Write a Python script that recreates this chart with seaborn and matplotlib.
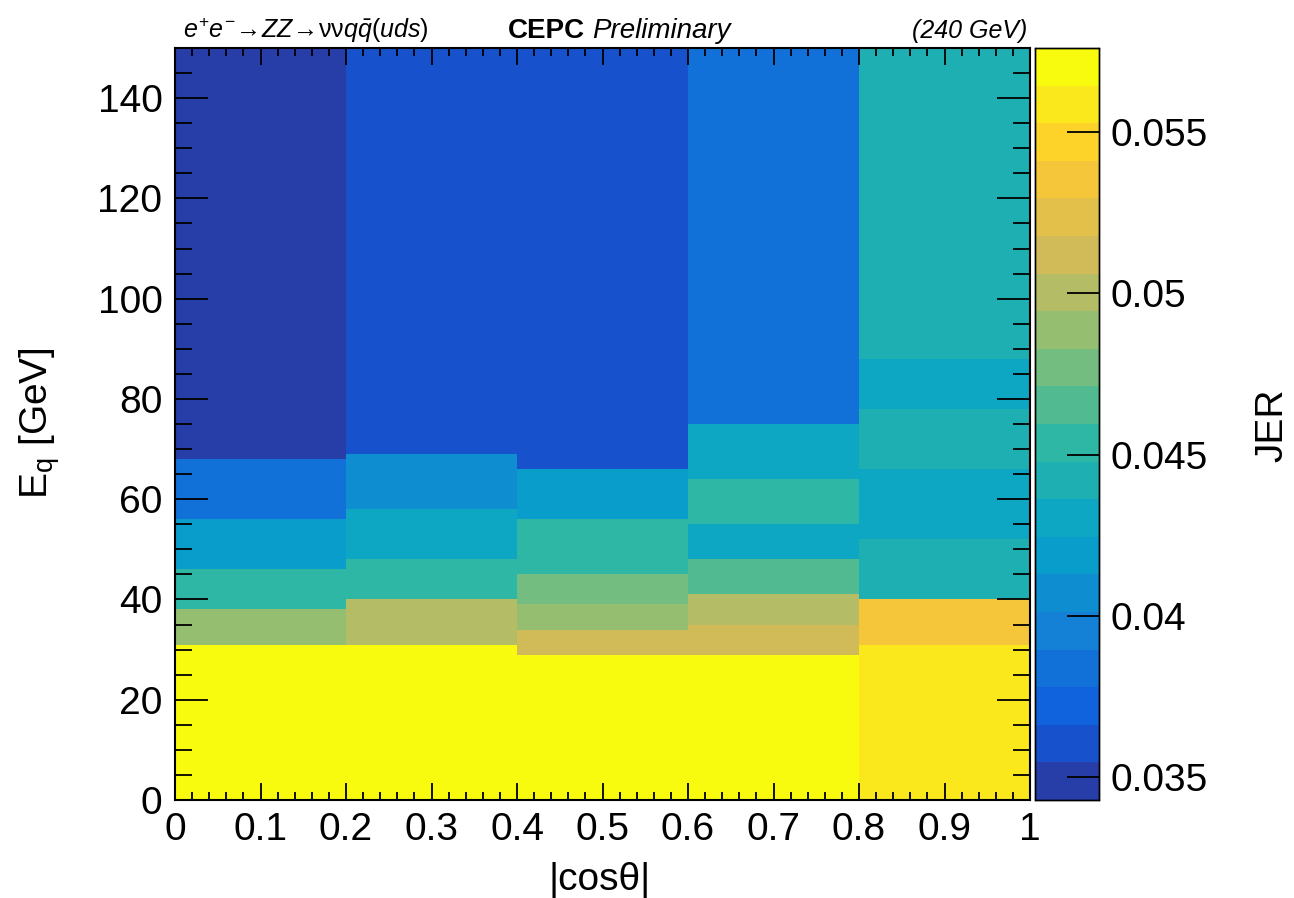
import numpy as np
import pandas as pd
import matplotlib
matplotlib.use("Agg")
import matplotlib.pyplot as plt
import seaborn as sns
from matplotlib.colors import LinearSegmentedColormap, ListedColormap
from matplotlib.ticker import FixedLocator, MultipleLocator

# ---------------- data ----------------
x_edges = [0.0, 0.2, 0.4, 0.6, 0.8, 1.0]
x_ticklabels = ["0", "0.1", "0.2", "0.3", "0.4", "0.5", "0.6", "0.7", "0.8", "0.9", "1"]
y_ticks = [0, 20, 40, 60, 80, 100, 120, 140]
cbar_ticks = [0.035, 0.04, 0.045, 0.05, 0.055]
cbar_ticklabels = ["0.035", "0.04", "0.045", "0.05", "0.055"]

col1_edges = [0, 31, 38, 46, 56, 68, 150]
col1_jer = [0.0576, 0.0488, 0.0454, 0.0419, 0.0384, 0.0343]
col2_edges = [0, 31, 40, 48, 58, 69, 150]
col2_jer = [0.0576, 0.0500, 0.0454, 0.0430, 0.0407, 0.0361]
col3_edges = [0, 29, 34, 39, 45, 56, 66, 150]
col3_jer = [0.0576, 0.0512, 0.0488, 0.0477, 0.0454, 0.0419, 0.0361]
col4_edges = [0, 29, 35, 41, 48, 55, 64, 75, 150]
col4_jer = [0.0576, 0.0512, 0.0500, 0.0465, 0.0430, 0.0454, 0.0430, 0.0384]
col5_edges = [0, 31, 40, 52, 66, 78, 88, 150]
col5_jer = [0.0558, 0.0535, 0.0442, 0.0430, 0.0442, 0.0430, 0.0442]

columns_edges = [col1_edges, col2_edges, col3_edges, col4_edges, col5_edges]
columns_jer = [col1_jer, col2_jer, col3_jer, col4_jer, col5_jer]

# build a 1-GeV fine grid table from the variable-size bins
y_max = 150
grid = np.zeros((y_max, len(columns_jer)))
for c, (edges, vals) in enumerate(zip(columns_edges, columns_jer)):
    for i, v in enumerate(vals):
        grid[edges[i]:edges[i + 1], c] = v
df = pd.DataFrame(grid)

# ---------------- ROOT kBird palette, 20 contour levels ----------------
stops = [0.0, 0.125, 0.25, 0.375, 0.5, 0.625, 0.75, 0.875, 1.0]
red = [0.2082, 0.0592, 0.0780, 0.0232, 0.1802, 0.5301, 0.8186, 0.9956, 0.9764]
green = [0.1664, 0.3599, 0.5041, 0.6419, 0.7178, 0.7492, 0.7328, 0.7862, 0.9832]
blue = [0.5293, 0.8684, 0.8385, 0.7914, 0.6425, 0.4662, 0.3499, 0.1968, 0.0539]
bird = LinearSegmentedColormap.from_list(
    "bird", list(zip(stops, zip(red, green, blue))), N=255)
ncont = 20
idx = [int((k + 0.99) * 255 / ncont) for k in range(ncont)]
cmap20 = ListedColormap([bird(i / 254) for i in idx])

zmin = float(np.min(grid))
zmax = float(np.max(grid))

# ---------------- figure ----------------
sns.set_theme(style="white")
plt.rcParams["font.family"] = ["Liberation Sans", "DejaVu Sans"]
plt.rcParams["text.color"] = "black"
plt.rcParams["mathtext.fontset"] = "custom"
plt.rcParams["mathtext.rm"] = "Liberation Sans"
plt.rcParams["mathtext.it"] = "Liberation Sans:italic"
plt.rcParams["mathtext.bf"] = "Liberation Sans:bold"

W, H = 1294, 898
fig = plt.figure(figsize=(W / 100, H / 100), dpi=100)
fig.patch.set_facecolor("white")

L, R, T, B = 175, 1030, 48, 800
ax = fig.add_axes([L / W, 1 - B / H, (R - L) / W, (B - T) / H])
cax = fig.add_axes([1035 / W, 1 - B / H, 64 / W, (B - T) / H])

sns.heatmap(df, ax=ax, cbar_ax=cax, cmap=cmap20, vmin=zmin, vmax=zmax,
            xticklabels=False, yticklabels=False, linewidths=0)

ax.invert_yaxis()
nx = len(columns_jer)
ax.set_xlim(0, nx)
ax.set_ylim(0, y_max)
ax.set_axisbelow(False)
cax.set_axisbelow(False)

for s in ax.spines.values():
    s.set_visible(True)
    s.set_color("black")
    s.set_linewidth(1.5)
    s.set_zorder(5)

scale = nx / (x_edges[-1] - x_edges[0])
ax.xaxis.set_major_locator(FixedLocator([v * scale for v in np.linspace(0, 1, 11)]))
ax.set_xticklabels(x_ticklabels)
ax.xaxis.set_minor_locator(MultipleLocator(0.02 * scale))
ax.yaxis.set_major_locator(FixedLocator(y_ticks))
ax.set_yticklabels([str(v) for v in y_ticks])
ax.yaxis.set_minor_locator(MultipleLocator(5))

ax.tick_params(axis="both", which="both", direction="in", colors="black",
               top=True, right=True, bottom=True, left=True, labelsize=28)
ax.tick_params(axis="x", which="major", length=12, width=1.3, pad=9)
ax.tick_params(axis="x", which="minor", length=6, width=1.3)
ax.tick_params(axis="y", which="major", length=24, width=1.3, pad=9)
ax.tick_params(axis="y", which="minor", length=12, width=1.3)
ax.set_xlabel("")
ax.set_ylabel("")

# colorbar
cax.yaxis.set_major_locator(FixedLocator(cbar_ticks))
cax.set_yticklabels(cbar_ticklabels)
cax.tick_params(axis="y", which="major", direction="in", length=23, width=1.3,
                labelsize=28, pad=8, right=True, left=False, colors="black")
cax.tick_params(axis="y", which="minor", length=0)
for s in cax.spines.values():
    s.set_visible(True)
    s.set_color("black")
    s.set_linewidth(1.0)

# labels
fig.text(600 / W, 1 - 880 / H, "|cos\u03b8|", ha="center", va="center", fontsize=28)
fig.text(40 / W, 1 - 423 / H, r"E$_{\mathregular{q}}$ [GeV]", ha="center", va="center",
         rotation=90, fontsize=28)
fig.text(1272 / W, 1 - 425 / H, "JER", ha="center", va="center", rotation=90, fontsize=28)

# header texts
yb = 1 - 38 / H
fig.text(183 / W, yb, r"$e^{+}e^{-}\!\rightarrow\!ZZ\!\rightarrow\!\mathrm{\nu\nu}q\bar{q}(uds)$",
         ha="left", va="baseline", fontsize=18)
fig.text(508 / W, yb, "CEPC", ha="left", va="baseline", fontsize=20, fontweight="bold")
fig.text(592 / W, yb, "Preliminary", ha="left", va="baseline", fontsize=20, fontstyle="italic")
fig.text(1027 / W, yb, "(240 GeV)", ha="right", va="baseline", fontsize=18, fontstyle="italic")

fig.savefig("out.png", dpi=100, facecolor="white")
